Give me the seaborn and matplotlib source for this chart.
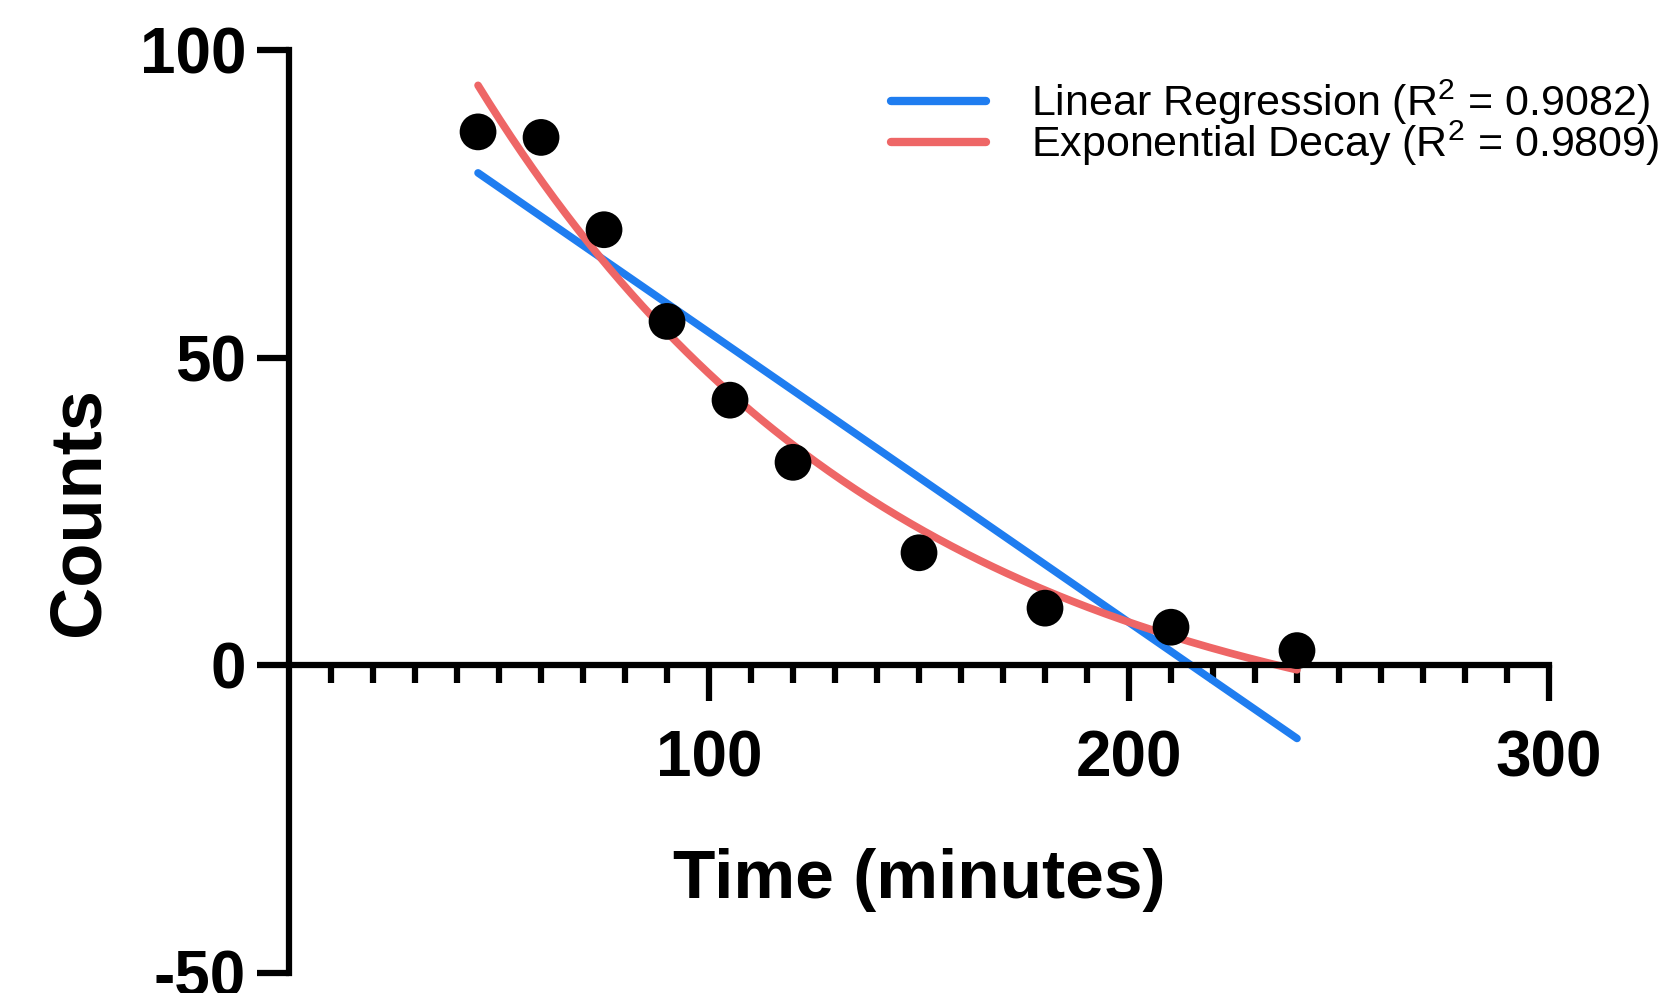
import numpy as np
import pandas as pd
import matplotlib
matplotlib.use("Agg")
import matplotlib.pyplot as plt
import seaborn as sns

# ---- data ----
time_min = [45, 60, 75, 90, 105, 120, 150, 180, 210, 240]
counts = [86.7, 85.8, 70.8, 55.9, 43.1, 33.0, 18.3, 9.3, 6.2, 2.4]
x_ticks = [100, 200, 300]
y_ticks = [-50, 0, 50, 100]
legend_labels = ["Linear Regression (R$^{2}$ = 0.9082)",
                 "Exponential Decay (R$^{2}$ = 0.9809)"]

sns.set_theme(style="white")
plt.rcParams["font.family"] = ["Liberation Sans", "DejaVu Sans"]
plt.rcParams["mathtext.default"] = "regular"
plt.rcParams["text.color"] = "black"
plt.rcParams["axes.labelcolor"] = "black"
plt.rcParams["xtick.color"] = "black"
plt.rcParams["ytick.color"] = "black"

x = np.array(time_min, dtype=float)
y = np.array(counts, dtype=float)

# linear least squares fit
slope, intercept = np.polyfit(x, y, 1)

# exponential decay with plateau: y = P + A*exp(-k x), fitted by grid over k
best = None
for k in np.linspace(0.001, 0.06, 6000):
    M = np.column_stack([np.ones_like(x), np.exp(-k * x)])
    coef, *_ = np.linalg.lstsq(M, y, rcond=None)
    sse = np.sum((M @ coef - y) ** 2)
    if best is None or sse < best[0]:
        best = (sse, k, coef)
_, k_fit, (P_fit, A_fit) = best

xs = np.linspace(min(time_min), max(time_min), 300)
fits = pd.DataFrame({
    "x": np.concatenate([xs, xs]),
    "y": np.concatenate([intercept + slope * xs, P_fit + A_fit * np.exp(-k_fit * xs)]),
    "model": [legend_labels[0]] * len(xs) + [legend_labels[1]] * len(xs),
})
pts = pd.DataFrame({"Time": time_min, "Counts": counts})

fig = plt.figure(figsize=(16.67, 9.93), dpi=100)
ax = fig.add_axes([0.1734, 0.0201, 0.7558, 0.9295])

sns.lineplot(data=fits, x="x", y="y", hue="model",
             palette=["#1F7DF0", "#EE6666"], linewidth=5.5, ax=ax,
             legend=True, solid_capstyle="round")
sns.scatterplot(data=pts, x="Time", y="Counts", color="black", s=700,
                edgecolor="none", ax=ax, zorder=5, legend=False)

ax.set_xlim(0, 300)
ax.set_ylim(-50, 100)

for s in ["top", "right"]:
    ax.spines[s].set_visible(False)
ax.spines["bottom"].set_position(("data", 0))
ax.spines["left"].set_position(("data", 0))
for s in ["bottom", "left"]:
    ax.spines[s].set_linewidth(4.5)
    ax.spines[s].set_color("black")
    ax.spines[s].set_capstyle("projecting")

ax.set_xticks(x_ticks)
ax.set_xticks(np.arange(10, 300, 10), minor=True)
ax.set_yticks(y_ticks)
ax.set_xticklabels([str(v) for v in x_ticks], fontsize=46, fontweight="bold")
ax.set_yticklabels([str(v) for v in y_ticks], fontsize=46, fontweight="bold")
ax.tick_params(axis="x", which="major", direction="out", length=26, width=4.5,
               pad=20, color="black", labelcolor="black", bottom=True)
ax.tick_params(axis="x", which="minor", direction="out", length=13, width=4.5,
               color="black", bottom=True)
ax.tick_params(axis="y", which="major", direction="out", length=23, width=4.5,
               pad=8, color="black", labelcolor="black", left=True)

ax.set_xlabel("Time (minutes)", fontsize=50, fontweight="bold", color="black")
ax.set_ylabel("Counts", fontsize=52, fontweight="bold", color="black")
ax.xaxis.set_label_coords(0.5, 0.135)
ax.yaxis.set_label_coords(-0.139, 0.5)

handles, labels = ax.get_legend_handles_labels()
leg = ax.legend(handles, labels, loc="upper left",
                bbox_to_anchor=(891 / 1667, 1 - 78 / 993),
                bbox_transform=fig.transFigure, frameon=False,
                fontsize=31, handlelength=2.2, handletextpad=1.05,
                borderpad=0, borderaxespad=0, labelspacing=-0.2)
for t in leg.get_texts():
    t.set_color("black")
for line in leg.get_lines():
    line.set_linewidth(6)
    line.set_solid_capstyle("round")

fig.savefig("out.png", dpi=100)
